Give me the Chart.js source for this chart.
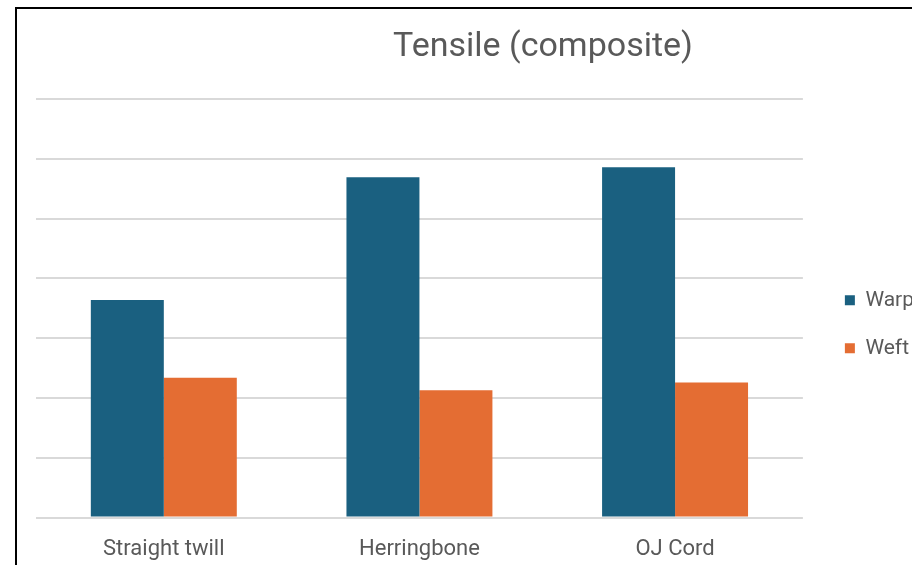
<!DOCTYPE html>
<html>
<head>
<meta charset="utf-8">
<script src="https://cdn.jsdelivr.net/npm/chart.js@4.4.1/dist/chart.umd.min.js"></script>
<style>
  html, body { margin: 0; padding: 0; background: #fff; overflow: hidden; width: 912px; height: 565px; }
  #frame { position: absolute; left: 15px; top: 7px; width: 1056px; height: 600px;
           border-left: 2px solid #000; border-top: 2px solid #000; background: #fff; }
  #title { position: absolute; left: 343px; width: 400px; top: 27px; text-align: center;
           font-family: Roboto, sans-serif; font-size: 34px; line-height: 34px; color: #595959; white-space: nowrap; }
  canvas { display: block; }
</style>
</head>
<body>
<div id="frame"><canvas id="c" width="1056" height="600"></canvas></div>
<div id="title">Tensile (composite)</div>
<script>
const categories = ["Straight twill", "Herringbone", "OJ Cord"];
const warpValues = [36.4, 56.9, 58.6];
const weftValues = [23.4, 21.3, 22.6];
const yTicks = [0, 10, 20, 30, 40, 50, 60, 70];

const ctx = document.getElementById('c').getContext('2d');
new Chart(ctx, {
  type: 'bar',
  data: {
    labels: categories,
    datasets: [
      { label: 'Warp', data: warpValues, backgroundColor: '#1a6080', borderWidth: 0 },
      { label: 'Weft', data: weftValues, backgroundColor: '#e46d33', borderWidth: 0 }
    ]
  },
  options: {
    responsive: false,
    animation: false,
    devicePixelRatio: 1,
    layout: { padding: { left: 19, right: 149, top: 90, bottom: 27 } },
    datasets: { bar: { barPercentage: 1.0, categoryPercentage: 0.571 } },
    plugins: {
      title: { display: false },
      legend: {
        position: 'right',
        fullSize: false,
        title: { display: true, text: ' ', font: { family: 'Roboto', size: 20 }, padding: 4 },
        labels: {
          color: '#595959',
          font: { family: 'Roboto', size: 21 },
          boxWidth: 10, boxHeight: 10,
          padding: 27
        }
      },
      tooltip: { enabled: false }
    },
    scales: {
      x: {
        grid: { display: false, drawTicks: false },
        border: { display: false },
        ticks: { color: '#595959', font: { family: 'Roboto', size: 22 }, padding: 19 }
      },
      y: {
        min: 0, max: 70,
        afterBuildTicks: (s) => { s.ticks = yTicks.map(v => ({ value: v })); },
        grid: { color: '#d9d9d9', lineWidth: 2, drawTicks: false },
        border: { display: false },
        ticks: { display: false }
      },
      gap: {
        type: 'linear',
        position: 'right',
        display: true,
        grid: { display: false, drawTicks: false },
        border: { display: false },
        ticks: { display: false },
        afterFit: (s) => { s.width = 15; }
      }
    }
  }
});
</script>
</body>
</html>
